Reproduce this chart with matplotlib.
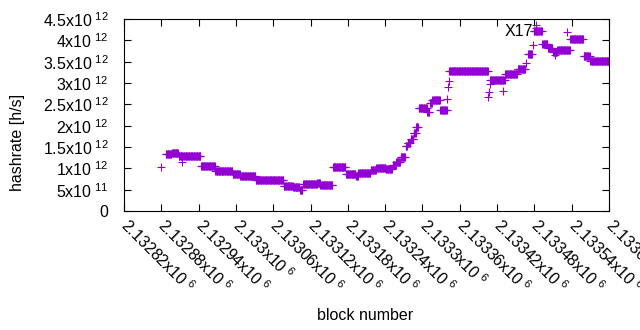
import numpy as np
import matplotlib
matplotlib.use("Agg")
import matplotlib.pyplot as plt

plt.rcParams['font.family'] = ['Liberation Sans', 'DejaVu Sans']
plt.rcParams['mathtext.default'] = 'regular'

# runs of blocks that share the same hashrate estimate (value in 1e12 h/s)
run_start = [2132887, 2132897, 2132908, 2132944, 2132967, 2132995, 2133007,
             2133032, 2133077, 2133092, 2133103, 2133108, 2133131, 2133136,
             2133156, 2133177, 2133193, 2133197, 2133217, 2133226, 2133241,
             2133252, 2133258, 2133265, 2133273, 2133276, 2133281, 2133286,
             2133290, 2133294, 2133308, 2133312, 2133316, 2133329, 2133343,
             2133409, 2133433, 2133453, 2133470, 2133479, 2133493, 2133502,
             2133510, 2133517, 2133538, 2133559, 2133570]
run_end = [2132896, 2132907, 2132943, 2132966, 2132994, 2133006, 2133031,
           2133076, 2133091, 2133102, 2133107, 2133130, 2133135, 2133155,
           2133176, 2133192, 2133196, 2133216, 2133225, 2133240, 2133251,
           2133257, 2133264, 2133272, 2133275, 2133280, 2133285, 2133289,
           2133293, 2133307, 2133311, 2133315, 2133328, 2133339, 2133405,
           2133432, 2133452, 2133465, 2133476, 2133492, 2133501, 2133509,
           2133516, 2133537, 2133558, 2133569, 2133598]
run_value = [1.33, 1.37, 1.29, 1.05, 0.93, 0.86, 0.82,
             0.73, 0.59, 0.56, 0.49, 0.63, 0.66, 0.61,
             1.02, 0.87, 0.82, 0.90, 0.96, 1.00, 0.98,
             1.08, 1.14, 1.27, 1.52, 1.59, 1.68, 1.82,
             1.96, 2.41, 2.33, 2.52, 2.60, 2.36, 3.28,
             3.07, 3.20, 3.33, 3.67, 4.22, 3.91, 3.83,
             3.73, 3.77, 4.03, 3.64, 3.52]

# isolated blocks
single_block = [2132879, 2132913, 2133340, 2133341, 2133342, 2133406, 2133407,
                2133408, 2133429, 2133467, 2133478, 2133482, 2133483, 2133513,
                2133532, 2133599]
single_value = [1.02, 1.16, 2.63, 2.90, 3.05, 2.68, 2.80,
                2.97, 2.82, 3.48, 3.89, 4.30, 4.36, 3.66,
                4.20, 3.52]

xtick_pos = [2132820, 2132880, 2132940, 2133000, 2133060, 2133120, 2133180,
             2133240, 2133300, 2133360, 2133420, 2133480, 2133540, 2133600]
xtick_txt = ["2.13282", "2.13288", "2.13294", "2.133", "2.13306", "2.13312",
             "2.13318", "2.13324", "2.1333", "2.13336", "2.13342", "2.13348",
             "2.13354", "2.1336"]
ytick_pos = [0, 0.5e12, 1e12, 1.5e12, 2e12, 2.5e12, 3e12, 3.5e12, 4e12, 4.5e12]
ytick_txt = ["0", "5x10$^{\\ 11}$", "1x10$^{\\ 12}$", "1.5x10$^{\\ 12}$",
             "2x10$^{\\ 12}$", "2.5x10$^{\\ 12}$", "3x10$^{\\ 12}$",
             "3.5x10$^{\\ 12}$", "4x10$^{\\ 12}$", "4.5x10$^{\\ 12}$"]

FS = 11.5


def main():
    xs, ys = [], []
    for a, b, v in zip(run_start, run_end, run_value):
        blk = np.arange(a, b + 1)
        xs.append(blk)
        ys.append(np.full(len(blk), v * 1e12))
    xs.append(np.array(single_block))
    ys.append(np.array(single_value) * 1e12)
    x = np.concatenate(xs)
    y = np.concatenate(ys)

    fig = plt.figure(figsize=(6.4, 3.3), dpi=100)
    ax = fig.add_axes([124 / 640, 1 - 211 / 330, 485 / 640, 192 / 330])
    ax.plot(x, y, ls='none', marker='+', ms=6.3, mew=0.8, c='#9400d3')

    ax.set_xlim(2132820, 2133600)
    ax.set_ylim(0, 4.5e12)
    ax.set_xticks(xtick_pos)
    ax.set_xticklabels([t + "x10$^{\\ 6}$" for t in xtick_txt],
                       rotation=-45, ha='left', va='center',
                       rotation_mode='anchor', fontsize=FS)
    ax.set_yticks(ytick_pos)
    ax.set_yticklabels(ytick_txt, fontsize=FS)
    ax.tick_params(direction='in', length=5, width=0.8, top=True, right=True,
                   color='black')
    ax.tick_params(axis='y', pad=11)
    ax.tick_params(axis='x', pad=8)
    for s in ax.spines.values():
        s.set_linewidth(0.8)

    ax.text(2133478, 4.2e12, "X17", ha='right', va='center', fontsize=FS)

    fig.text(18 / 640, 1 - 142 / 330, "hashrate [h/s]", rotation=90,
             ha='center', va='center', fontsize=FS)
    fig.text(365 / 640, 1 - 316 / 330, "block number",
             ha='center', va='center', fontsize=FS)

    fig.savefig("out.png", dpi=100)


if __name__ == '__main__':
    main()
